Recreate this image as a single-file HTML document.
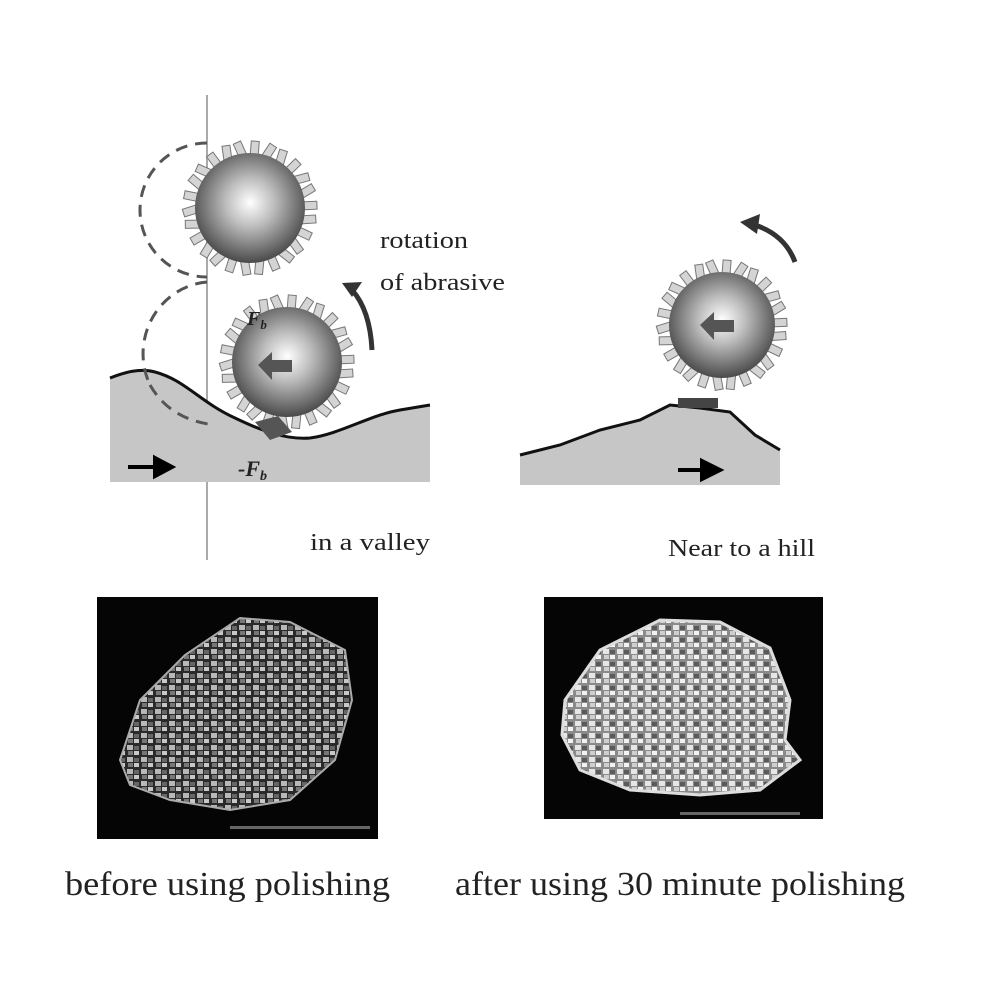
<!DOCTYPE html>
<html><head><meta charset="utf-8"><style>
html,body{margin:0;padding:0;background:#fff}
svg{display:block}
text{font-family:"Liberation Serif",serif;fill:#222}
</style></head><body>
<svg id="s" width="1000" height="1000" viewBox="0 0 1000 1000">
<defs>
<radialGradient id="ball" cx="0.5" cy="0.45" r="0.55">
<stop offset="0" stop-color="#ffffff"/><stop offset="0.4" stop-color="#bdbdbd"/><stop offset="1" stop-color="#4a4a4a"/>
</radialGradient>
<pattern id="grains" width="14" height="12" patternUnits="userSpaceOnUse">
<rect width="14" height="12" fill="#2a2a2a"/>
<rect x="1" y="1" width="6" height="5" fill="#b8b8b8"/><rect x="8" y="2" width="5" height="4" fill="#666"/>
<rect x="2" y="7" width="5" height="4" fill="#777"/><rect x="8" y="7" width="5" height="4" fill="#c8c8c8"/>
</pattern>
<pattern id="grains2" width="14" height="12" patternUnits="userSpaceOnUse">
<rect width="14" height="12" fill="#8a8a8a"/>
<rect x="1" y="1" width="6" height="5" fill="#e6e6e6"/><rect x="8" y="2" width="5" height="4" fill="#5a5a5a"/>
<rect x="2" y="7" width="5" height="4" fill="#cfcfcf"/><rect x="8" y="7" width="5" height="4" fill="#f2f2f2"/>
</pattern>
</defs>
<line x1="207" y1="95" x2="207" y2="560" stroke="#aaa" stroke-width="2"/>
<path d="M110,378 C125,372 140,368 155,372 C185,380 200,402 235,418 C260,430 285,440 310,438 C340,434 370,415 400,410 L430,405 L430,482 L110,482 Z" fill="#c6c6c6" stroke="none"/>
<path d="M110,378 C125,372 140,368 155,372 C185,380 200,402 235,418 C260,430 285,440 310,438 C340,434 370,415 400,410 L430,405" fill="none" stroke="#111" stroke-width="3"/>
<path d="M207,143 A67,67 0 0 0 207,277" fill="none" stroke="#555" stroke-width="3" stroke-dasharray="12,8"/>
<path d="M207,282 A70,72 0 0 0 150,385 M150,385 Q170,420 215,425" fill="none" stroke="#555" stroke-width="3" stroke-dasharray="12,8"/>
<g id="b1"></g>
<g id="b2"></g>
<path d="M258,365 L272,352 L272,360 L292,360 L292,372 L272,372 L272,380 Z" fill="#555"/>
<path d="M255,422 L278,416 L292,432 L270,440 Z" fill="#555"/>
<text x="247" y="325" font-size="20" font-style="italic" font-weight="bold">F<tspan font-size="13" dy="4">b</tspan></text>
<text x="238" y="476" font-size="22" font-style="italic" font-weight="bold">-F<tspan font-size="14" dy="4">b</tspan></text>
<path d="M128,467 L165,467 M155,458 L172,467 L155,476 Z" stroke="#000" stroke-width="4" fill="#000"/>
<path d="M372,350 Q370,310 352,290" fill="none" stroke="#333" stroke-width="5"/>
<path d="M342,283 L362,282 L352,297 Z" fill="#333"/>
<text x="380" y="248" font-size="24" textLength="88" lengthAdjust="spacingAndGlyphs">rotation</text>
<text x="380" y="290" font-size="24" textLength="125" lengthAdjust="spacingAndGlyphs">of abrasive</text>
<text x="310" y="550" font-size="24" textLength="120" lengthAdjust="spacingAndGlyphs">in a valley</text>

<path d="M520,455 L560,445 L600,430 L640,420 L670,405 L700,408 L730,412 L755,435 L780,450 L780,485 L520,485 Z" fill="#c6c6c6"/>
<path d="M520,455 L560,445 L600,430 L640,420 L670,405 L700,408 L730,412 L755,435 L780,450" fill="none" stroke="#111" stroke-width="3"/>
<g id="b3"></g>
<path d="M700,325 L714,312 L714,320 L734,320 L734,332 L714,332 L714,340 Z" fill="#555"/>
<rect x="678" y="398" width="40" height="10" fill="#444"/>
<path d="M678,470 L712,470 M702,461 L720,470 L702,479 Z" stroke="#000" stroke-width="4" fill="#000"/>
<path d="M795,262 Q785,235 755,225" fill="none" stroke="#333" stroke-width="5"/>
<path d="M740,222 L760,214 L757,234 Z" fill="#333"/>
<text x="668" y="556" font-size="24" textLength="147" lengthAdjust="spacingAndGlyphs">Near to a hill</text>

<rect x="97" y="597" width="281" height="242" fill="#050505"/>
<path d="M120,760 L140,700 L185,655 L240,618 L290,622 L345,650 L352,700 L335,760 L290,800 L230,810 L170,800 L130,785 Z" fill="url(#grains)" stroke="#aaa" stroke-width="2"/>
<rect x="230" y="826" width="140" height="3" fill="#666"/>
<rect x="544" y="597" width="279" height="222" fill="#050505"/>
<path d="M565,700 L600,650 L660,620 L720,622 L770,648 L790,700 L785,740 L800,760 L760,790 L700,795 L630,790 L580,770 L562,735 Z" fill="url(#grains2)" stroke="#ddd" stroke-width="3"/>
<rect x="680" y="812" width="120" height="3" fill="#666"/>
<text x="65" y="895" font-size="34" textLength="325" lengthAdjust="spacingAndGlyphs">before using polishing</text>
<text x="455" y="895" font-size="34" textLength="450" lengthAdjust="spacingAndGlyphs">after using 30 minute polishing</text>
</svg>
<script>
function ball(id,cx,cy,r){
  const g=document.getElementById(id);
  let h='';
  for(let i=0;i<26;i++){
    const a=i/26*Math.PI*2+0.2;const x=cx+Math.cos(a)*(r+3),y=cy+Math.sin(a)*(r+3);
    h+=`<rect x="${x-4}" y="${y-9}" width="8" height="18" fill="#d4d4d4" stroke="#777" stroke-width="1" transform="rotate(${a*180/Math.PI+90+(i%3-1)*15} ${x} ${y})"/>`;
  }
  h+=`<circle cx="${cx}" cy="${cy}" r="${r}" fill="url(#ball)"/>`;
  g.innerHTML=h;
}
ball('b1',250,208,55);
ball('b2',287,362,55);
ball('b3',722,325,53);
</script>
</body></html>
